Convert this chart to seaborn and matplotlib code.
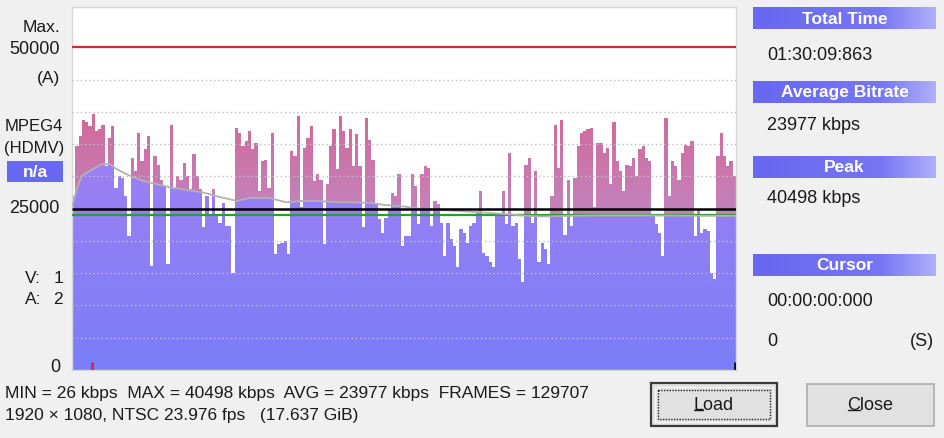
import numpy as np
import pandas as pd
import matplotlib
matplotlib.use("Agg")
import matplotlib.pyplot as plt
import seaborn as sns
from matplotlib.patches import Rectangle

# ---------------- data ----------------
bitrate_kbps = [
    26900, 34700, 36200, 38800, 38500, 37800, 39600, 37000, 37300, 38000,
    31600, 36000, 37800, 28200, 30000, 29800, 27000, 20800, 32900, 30800,
    36700, 32400, 34200, 36200, 16100, 33100, 31800, 29500, 28500, 16400,
    38000, 28000, 30000, 29500, 32100, 30000, 28000, 33400, 30000, 28000,
    22100, 27000, 23900, 28000, 24100, 22800, 25900, 22300, 22300, 15100,
    37500, 36700,
    34700, 35500, 37000, 34200, 35200, 27700, 32400, 32600, 28200, 36700,
    18000, 19500, 19700, 20000, 18000, 33900, 33100, 39300, 25200, 34400,
    36000, 37800, 29300, 30300, 29500, 19500, 28800, 34700, 37300, 31100,
    39300, 37000, 34400, 37300, 31600, 36500, 31600, 22100, 39100, 35700,
    32600, 25900, 23400, 21300, 23600, 24900, 27500, 27000, 30300, 19200,
    20800,
    20800, 30300, 28500, 22600, 30300, 31600, 31300, 22300, 26200, 25700,
    22800, 17700, 22800, 20300, 19200, 16000, 21800, 21300, 19700, 22300,
    22800, 24400, 27700, 18200, 17700, 16700, 15900, 24100, 24400, 27700,
    22600, 33700, 22300, 22800, 17200, 13600, 31800, 32900, 22800, 30800,
    16700, 19700, 18700, 16400, 27000, 38000, 31300, 38800, 21000, 29500,
    22300, 29800, 34700, 36700, 37000, 37300, 37500, 25200, 35200, 35200,
    33700, 34400, 28800, 38500, 32400, 30800, 27700, 31800, 31600, 32900,
    30000, 34200, 34700, 32900, 32400, 24100, 22600, 21300, 17700, 39100,
    27000, 32400, 31600, 29500, 33700, 34900, 34700, 35500, 20800, 24900,
    21300, 21800, 21600, 15100, 14100, 33100, 36700, 33100, 31600, 32400,
    30000,
]
# moving-average (grey) curve: sample position, kbps
movavg_pos = [0.2, 1.4, 3.0, 5.5, 9.1, 11.7, 13.8, 17.8, 21.9, 26.1, 30.2, 35.3,
              40.4, 45.5, 50.7, 54.5, 60.6, 65.8, 71.0, 76.0, 81.2, 86.4, 91.5,
              96.6, 101.8, 107.7, 116.9, 125.1, 132.3, 139.5, 144.6, 152.8,
              162.5, 177.8, 193.2, 204.0]
movavg_kbps = [25500, 28000, 30100, 30860, 31900, 31900, 31100, 30100, 29300,
               28800, 28300, 27900, 27500, 26800, 26200, 26650, 26650, 26000,
               26200, 26200, 26000, 26000, 25900, 25550, 25350, 24950, 24700,
               24450, 24200, 23900, 23800, 23900, 23950, 23950, 23900, 23900]
mean_kbps = 23977
ref_kbps = 25000
max_kbps = 50000
grid_kbps = [5000, 10000, 15000, 20000, 30000, 35000, 40000, 45000]
axis_top_kbps = 56260
cursor_marks = [6.2, 203.6]

left_labels = ["Max.", "50000", "(A)", "MPEG4", "(HDMV)", "25000", "0"]
stream_labels = [("V:", "1"), ("A:", "2")]
badge_text = "n/a"
info_titles = ["Total Time", "Average Bitrate", "Peak", "Cursor"]
info_values = ["01:30:09:863", "23977 kbps", "40498 kbps", "00:00:00:000"]
cursor_value = "0"
cursor_unit = "(S)"
stats_line1 = "MIN = 26 kbps  MAX = 40498 kbps  AVG = 23977 kbps  FRAMES = 129707"
stats_line2 = "1920 \u00d7 1080, NTSC 23.976 fps   (17.637 GiB)"
buttons = ["Load", "Close"]

# ---------------- figure ----------------
sns.set_theme(style="white")
plt.rcParams['font.family'] = ['Liberation Sans', 'DejaVu Sans']

W, H = 945, 439
fig = plt.figure(figsize=(W / 100, H / 100), dpi=100, facecolor='#f0f0f0')

PL, PR, PT, PB = 72, 736, 8, 371
ax = fig.add_axes([PL / W, 1 - PB / H, (PR - PL) / W, (PB - PT) / H])
ax.set_facecolor('white')

n = len(bitrate_kbps)
vals = np.array(bitrate_kbps, float)
centers = np.arange(n) + 0.5
edges = [float(e) for e in range(n + 1)]
split = np.minimum(vals, np.interp(centers, movavg_pos, movavg_kbps))
df = pd.DataFrame({"pos": centers, "total": vals, "lower": split})

sns.histplot(data=df, x="pos", weights="total", bins=edges, element="step",
             fill=True, linewidth=0, alpha=1, color="#c97aae", ax=ax, zorder=1)
upper_poly = ax.collections[-1]
sns.histplot(data=df, x="pos", weights="lower", bins=edges, element="step",
             fill=True, linewidth=0, alpha=1, color="#8a7ef6", ax=ax, zorder=1.2)
lower_poly = ax.collections[-1]


def vgrad(c_hi, y_hi, c_lo, y_lo, ymax, rows=600):
    ys = np.linspace(ymax, 0, rows)
    t = np.clip((ys - y_lo) / (y_hi - y_lo), 0, 1)[:, None]
    a = np.array(c_hi) / 255.0
    b = np.array(c_lo) / 255.0
    return (t * a + (1 - t) * b)[:, None, :]


pink = vgrad((211, 104, 152), 40000, (194, 132, 190), 24000, axis_top_kbps)
purple = vgrad((157, 128, 244), 32000, (121, 125, 248), 0, axis_top_kbps)
im1 = ax.imshow(pink, extent=[0, n, 0, axis_top_kbps], aspect='auto',
                origin='upper', interpolation='bilinear', zorder=2)
im1.set_clip_path(upper_poly.get_paths()[0], transform=ax.transData)
im2 = ax.imshow(purple, extent=[0, n, 0, axis_top_kbps], aspect='auto',
                origin='upper', interpolation='bilinear', zorder=2.5)
im2.set_clip_path(lower_poly.get_paths()[0], transform=ax.transData)

ax.hlines(grid_kbps, 0, n, colors='#bdbdc8', linestyles=(0, (1, 2)), lw=1, zorder=3)
ax.hlines(mean_kbps, 0, n, colors='#2f9a2f', lw=1.6, zorder=4)
sns.lineplot(x=movavg_pos, y=movavg_kbps, color='#b2b2b2', lw=1.3, ax=ax, zorder=5)
ax.hlines(ref_kbps, 0, n, colors='#000000', lw=1.8, zorder=6)
ax.hlines(max_kbps, 0, n, colors='#d42a2a', lw=1.6, zorder=6)
ax.vlines(cursor_marks[0], 0, 1300, colors='#e0205a', lw=2, zorder=7)
ax.vlines(cursor_marks[1], 0, 1300, colors='#111111', lw=2, zorder=7)

ax.set_xlim(0, n)
ax.set_ylim(0, axis_top_kbps)
ax.set_xticks([])
ax.set_yticks([])
ax.set_xlabel('')
ax.set_ylabel('')
for s in ax.spines.values():
    s.set_color('#d8d8d8')
    s.set_linewidth(1)

# ---------------- overlay in pixel coordinates ----------------
ov = fig.add_axes([0, 0, 1, 1], zorder=5)
ov.patch.set_alpha(0)
ov.axis('off')

FS = 13
TXT = '#1a1a1a'
left_y = [28, 50, 78, 127, 149, 209, 368]
left_x = [60, 60, 60, 63, 64, 60, 60]
left_fs = [12.5, 13, 12.5, 12, 12, 13, 13]
for lab, yy, xx, fs in zip(left_labels, left_y, left_x, left_fs):
    ov.text(xx, yy, lab, ha='right', va='center', fontsize=fs, color=TXT)

ov.add_patch(Rectangle((7, 162), 56, 21, color='#6868f2', lw=0))
ov.text(35, 172.5, badge_text, ha='center', va='center', fontsize=12.5,
        color='white', fontweight='bold')
for (k, v), yy in zip(stream_labels, [279, 300]):
    ov.text(25, yy, k, ha='left', va='center', fontsize=12.5, color=TXT)
    ov.text(63, yy, v, ha='right', va='center', fontsize=12.5, color=TXT)

# header boxes with horizontal gradient
gx = np.linspace(0, 1, 200)
stops = [0, 0.7, 1.0]
cols = np.array([(104, 104, 240), (118, 118, 243), (176, 176, 250)]) / 255.0
hgrad = np.stack([np.interp(gx, stops, cols[:, i]) for i in range(3)], axis=-1)[None, :, :]
head_y = [8, 82, 157, 255]
val_y = [55, 126, 199, 302]
for title, val, hy, vy in zip(info_titles, info_values, head_y, val_y):
    ov.imshow(hgrad, extent=[753, 936, hy + 22, hy], aspect='auto',
              origin='upper', interpolation='bilinear')
    ov.text(844.5, hy + 11, title, ha='center', va='center', fontsize=12.5,
            color='white', fontweight='bold')
    ov.text(767, vy, val, ha='left', va='center', fontsize=FS, color=TXT)
ov.text(767, 342, cursor_value, ha='left', va='center', fontsize=FS, color=TXT)
ov.text(934, 342, cursor_unit, ha='right', va='center', fontsize=FS, color=TXT)

ov.text(5, 394, stats_line1, ha='left', va='center', fontsize=12.5, color=TXT)
ov.text(5, 416, stats_line2, ha='left', va='center', fontsize=12.5, color=TXT)

# buttons
ov.add_patch(Rectangle((651, 384), 126, 43, facecolor='#e1e1e1', edgecolor='#3a3a3a', lw=1.6))
ov.add_patch(Rectangle((655, 388), 118, 35, facecolor='none', edgecolor='#f5f5f5', lw=1))
ov.add_patch(Rectangle((658, 391), 112, 29, facecolor='none', edgecolor='#222222',
                       lw=1, linestyle=(0, (1, 1))))
ov.add_patch(Rectangle((807, 385), 127, 42, facecolor='#e1e1e1', edgecolor='#adadad', lw=1.2))
t_load = ov.text(714, 406, buttons[0], ha='center', va='center', fontsize=FS, color=TXT)
t_close = ov.text(870.5, 406, buttons[1], ha='center', va='center', fontsize=FS, color=TXT)

ov.set_xlim(0, W)
ov.set_ylim(H, 0)

# underline first letter (mnemonic)
fig.canvas.draw()
r = fig.canvas.get_renderer()
inv = ov.transData.inverted()
for t in (t_load, t_close):
    bb = t.get_window_extent(r)
    tmp = ov.text(0, 0, t.get_text()[0], fontsize=FS)
    w = tmp.get_window_extent(r).width
    tmp.remove()
    (x0, y0), (x1, _) = inv.transform([(bb.x0, bb.y0), (bb.x0 + w, bb.y0)])
    ov.plot([x0 + 0.5, x1 - 0.5], [y0 - 3, y0 - 3], color=TXT, lw=1)

ov.set_xlim(0, W)
ov.set_ylim(H, 0)
fig.savefig('out.png', dpi=100, facecolor=fig.get_facecolor())
